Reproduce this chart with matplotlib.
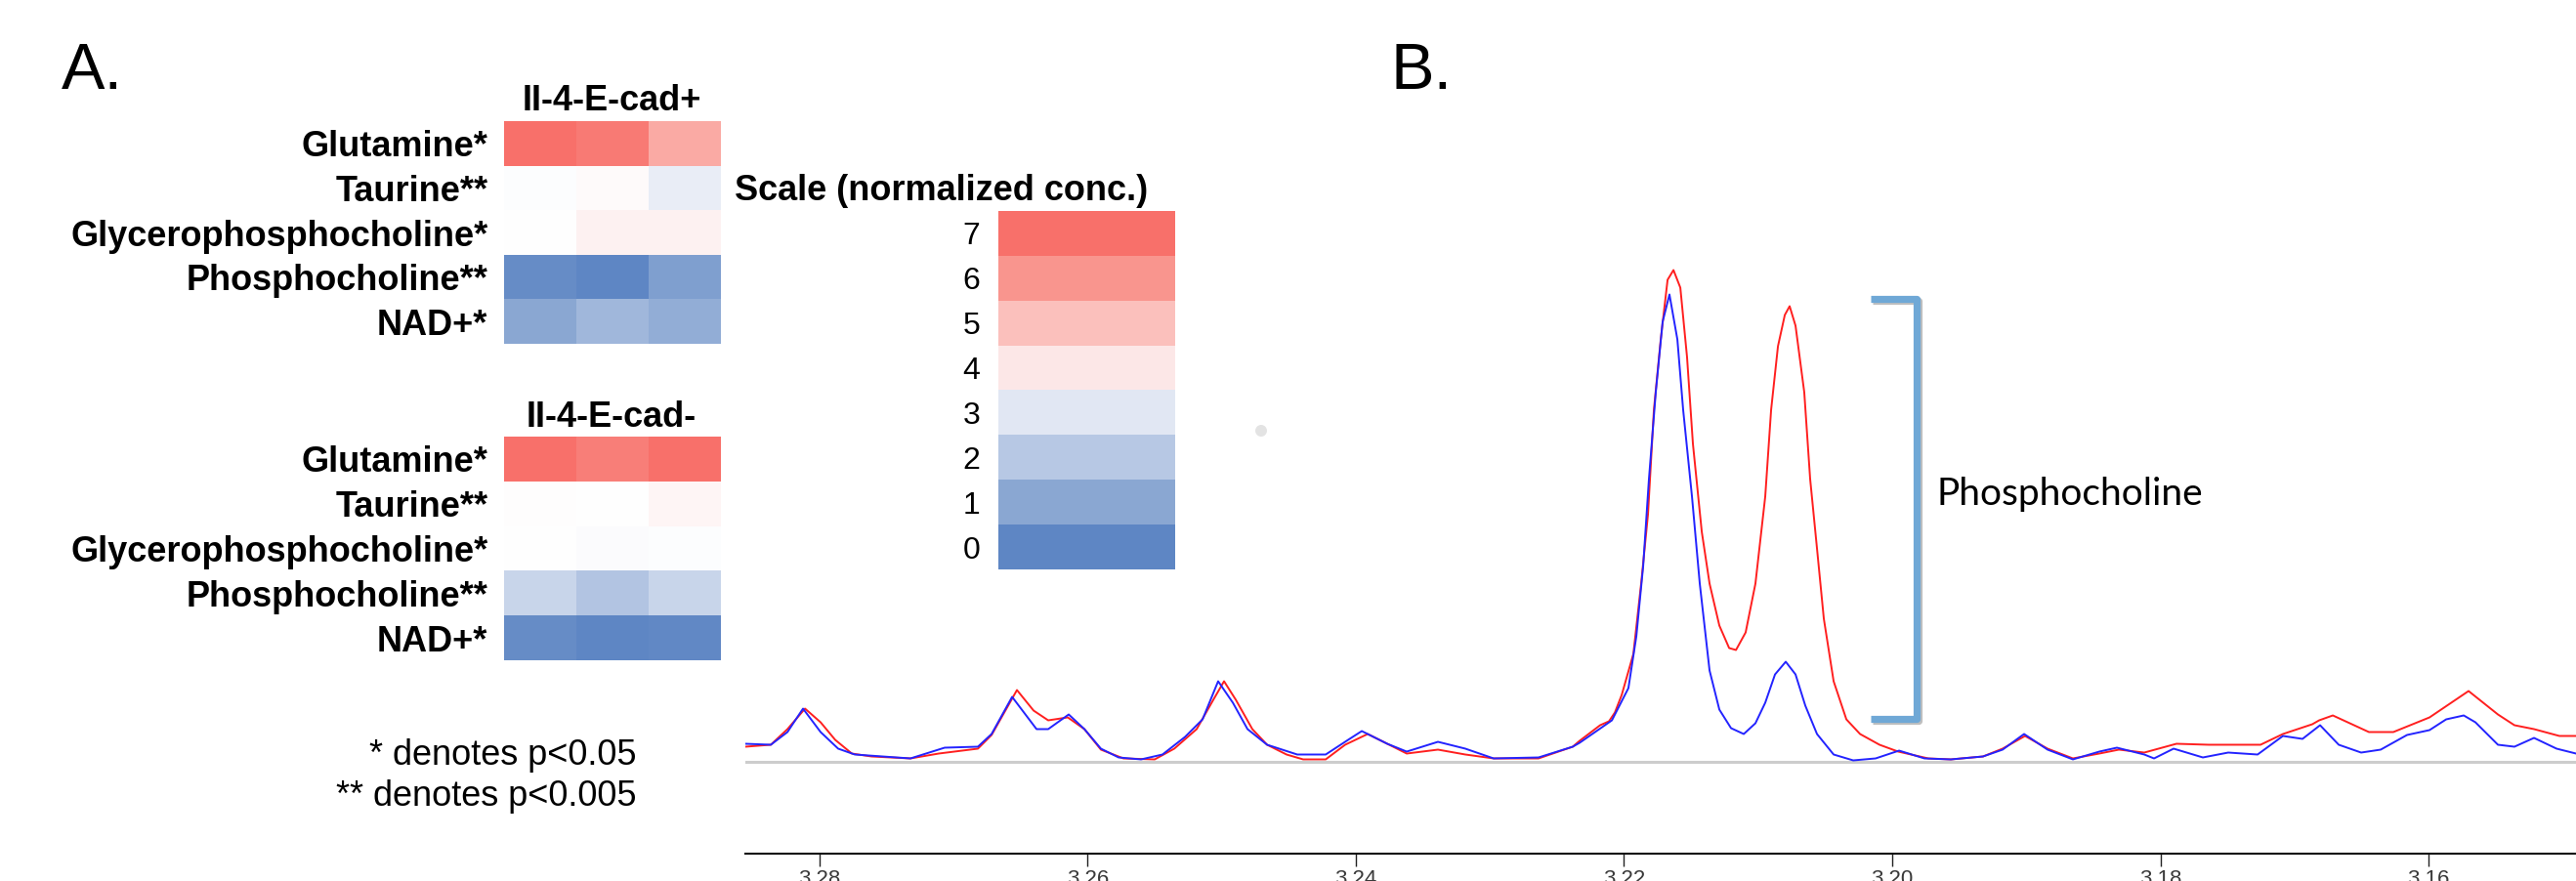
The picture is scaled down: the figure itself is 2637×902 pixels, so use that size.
import matplotlib
matplotlib.use("Agg")
import matplotlib.pyplot as plt
from matplotlib.colors import LinearSegmentedColormap
from matplotlib import patheffects as pe
from matplotlib.lines import Line2D
from matplotlib.patches import Ellipse
import numpy as np

# ---------------- data ----------------
metabolites = ["Glutamine*", "Taurine**", "Glycerophosphocholine*",
               "Phosphocholine**", "NAD+*"]
group_pos_title = "II-4-E-cad+"
group_neg_title = "II-4-E-cad-"

# normalized concentration (0..7), 3 replicates per metabolite
ecad_pos = [[7.0, 6.7, 5.5],
            [3.45, 3.6, 3.14],
            [3.5, 3.8, 3.8],
            [0.2, 0.0, 0.76],
            [1.0, 1.48, 1.2]]
ecad_neg = [[7.0, 6.6, 7.0],
            [3.55, 3.5, 3.7],
            [3.5, 3.42, 3.47],
            [2.42, 1.89, 2.42],
            [0.2, 0.0, 0.1]]

scale_levels = [7, 6, 5, 4, 3, 2, 1, 0]
scale_colors = ["#5e86c4", "#8ba8d3", "#b7c8e4", "#e2e8f4",
                "#fde8e8", "#fbc0bc", "#fa968f", "#f8706a"]  # for 0..7

footnotes = ["* denotes p<0.05", "** denotes p<0.005"]

# NMR spectrum (ppm, intensity a.u.) - red and blue traces
ppm_red = [3.28551, 3.28361, 3.28237, 3.28106, 3.27990, 3.27881, 3.27757, 3.27611, 3.27320, 3.27109,
           3.26817, 3.26715, 3.26526, 3.26402, 3.26293, 3.26147, 3.26023, 3.25900, 3.25732, 3.25499,
           3.25353, 3.25186, 3.25062, 3.24982, 3.24894, 3.24771, 3.24661, 3.24516, 3.24392, 3.24224,
           3.24079, 3.23911, 3.23765, 3.23620, 3.23387, 3.23183, 3.22972, 3.22637, 3.22382, 3.22331,
           3.22178, 3.22112, 3.22068, 3.22017, 3.21930, 3.21872, 3.21821, 3.21777, 3.21726, 3.21675,
           3.21631, 3.21580, 3.21530, 3.21486, 3.21420, 3.21362, 3.21289, 3.21216, 3.21165, 3.21093,
           3.21020, 3.20947, 3.20903, 3.20852, 3.20801, 3.20765, 3.20721, 3.20656, 3.20612, 3.20561,
           3.20510, 3.20437, 3.20342, 3.20240, 3.20095, 3.19956, 3.19731, 3.19563, 3.19323, 3.19177,
           3.19010, 3.18842, 3.18653, 3.18456, 3.18310, 3.18121, 3.17881, 3.17640, 3.17254, 3.17087,
           3.16868, 3.16817, 3.16715, 3.16446, 3.16264, 3.15994, 3.15703, 3.15484, 3.15361, 3.15215,
           3.15026, 3.14902]
int_red = [15, 17, 33, 54, 40, 22, 8, 5, 3, 8,
           13, 27, 73, 52, 42, 45, 33, 12, 3, 2,
           13, 33, 63, 82, 63, 33, 17, 7, 2, 2,
           17, 28, 18, 8, 12, 7, 3, 3, 15, 21,
           37, 41, 50, 68, 110, 182, 253, 360, 432, 493,
           503, 485, 414, 325, 235, 182, 139, 116, 114, 132,
           182, 271, 360, 425, 457, 466, 446, 378, 289, 218,
           146, 82, 43, 28, 17, 10, 3, 2, 5, 13,
           26, 13, 3, 8, 12, 9, 18, 17, 17, 28,
           38, 42, 47, 30, 30, 45, 72, 48, 37, 33,
           26, 26]

ppm_blue = [3.28551, 3.28361, 3.28237, 3.28121, 3.27990, 3.27859, 3.27735, 3.27320, 3.27065, 3.26817,
            3.26715, 3.26562, 3.26380, 3.26293, 3.26140, 3.26023, 3.25900, 3.25768, 3.25601, 3.25441,
            3.25273, 3.25142, 3.25026, 3.24916, 3.24807, 3.24661, 3.24436, 3.24224, 3.24057, 3.23955,
            3.23765, 3.23620, 3.23387, 3.23183, 3.22972, 3.22637, 3.22382, 3.22331, 3.22163, 3.22090,
            3.21967, 3.21908, 3.21857, 3.21814, 3.21763, 3.21712, 3.21661, 3.21602, 3.21559, 3.21493,
            3.21435, 3.21362, 3.21289, 3.21202, 3.21107, 3.21020, 3.20947, 3.20874, 3.20794, 3.20721,
            3.20648, 3.20561, 3.20437, 3.20291, 3.20124, 3.19949, 3.19760, 3.19563, 3.19323, 3.19177,
            3.19017, 3.18842, 3.18653, 3.18456, 3.18325, 3.18121, 3.18048, 3.17902, 3.17684, 3.17495,
            3.17276, 3.17087, 3.16941, 3.16810, 3.16671, 3.16504, 3.16358, 3.16162, 3.15994, 3.15870,
            3.15739, 3.15652, 3.15484, 3.15361, 3.15215, 3.15047, 3.14902]
int_blue = [18, 17, 30, 54, 30, 13, 7, 3, 14, 15,
            28, 66, 33, 33, 48, 33, 13, 4, 2, 7,
            25, 43, 82, 60, 33, 17, 7, 7, 22, 31,
            18, 10, 20, 13, 3, 4, 15, 19, 35, 42,
            75, 128, 200, 289, 378, 450, 478, 432, 360, 271,
            182, 93, 53, 34, 28, 39, 60, 89, 102, 89,
            57, 28, 7, 1, 3, 11, 3, 2, 5, 12,
            28, 12, 2, 10, 14, 7, 3, 13, 4, 9,
            7, 26, 23, 37, 17, 9, 12, 27, 32, 43,
            47, 40, 17, 15, 24, 13, 8]

ppm_ticks = [3.28, 3.26, 3.24, 3.22, 3.20, 3.18, 3.16]
ppm_range = (3.28551, 3.14902)
bracket_ppm = (3.20160, 3.19818)
bracket_int = (474, 44)
bracket_label = "Phosphocholine"

# ---------------- layout helpers ----------------
W, H, DPI = 2637, 902, 100


def fx(px):
    return px / W


def fy(py):
    return 1 - py / H


def box(l, t, r, b):
    return [fx(l), fy(b), (r - l) / W, (b - t) / H]


SANS = "Liberation Sans"
plt.rcParams["font.family"] = [SANS, "DejaVu Sans"]

fig = plt.figure(figsize=(W / DPI, H / DPI), dpi=DPI)
fig.patch.set_facecolor("white")

pos = np.linspace(0, 1, 8)
cols = list(zip(pos, scale_colors))
cols.insert(4, (3.5 / 7, "#ffffff"))
cmap = LinearSegmentedColormap.from_list("conc", cols)

# ---------------- panel labels ----------------
fig.text(fx(63), fy(91), "A.", fontsize=48, va="baseline", ha="left")
fig.text(fx(1424), fy(91), "B.", fontsize=48, va="baseline", ha="left")


def heat(ax_box, values, title, title_base):
    ax = fig.add_axes(ax_box)
    ax.imshow(np.array(values), cmap=cmap, vmin=0, vmax=7, aspect="auto",
              interpolation="nearest")
    ax.set_xticks([])
    ax.set_yticks(range(len(metabolites)))
    ax.set_yticklabels(metabolites, fontsize=26, fontweight="bold")
    ax.tick_params(axis="y", length=0, pad=12)
    for s in ax.spines.values():
        s.set_visible(False)
    fig.text(fx(626), fy(title_base), title, fontsize=26, fontweight="bold",
             ha="center", va="baseline")
    return ax


heat(box(516, 124, 737, 352), ecad_pos, group_pos_title, 113)
heat(box(516, 447, 737, 676), ecad_neg, group_neg_title, 437)

fig.text(fx(652), fy(783), footnotes[0], fontsize=26, ha="right", va="baseline")
fig.text(fx(652), fy(825), footnotes[1], fontsize=26, ha="right", va="baseline")

# ---------------- scale ----------------
cax = fig.add_axes(box(1022, 216, 1203, 583))
cax.imshow(np.array(scale_levels)[:, None], cmap=cmap, vmin=0, vmax=7,
           aspect="auto", interpolation="nearest")
cax.set_xticks([])
cax.set_yticks(range(len(scale_levels)))
cax.set_yticklabels([str(v) for v in scale_levels], fontsize=23)
cax.tick_params(axis="y", length=0, pad=13.5)
for s in cax.spines.values():
    s.set_visible(False)
fig.text(fx(752), fy(205), "Scale (normalized conc.)", fontsize=26,
         fontweight="bold", ha="left", va="baseline")

# small grey smudge present in the original figure
fig.patches.append(Ellipse((fx(1291), fy(441)), 12 / W, 12 / H,
                           transform=fig.transFigure, facecolor="#dddddd",
                           edgecolor="none", alpha=0.8))

# ---------------- spectrum ----------------
ax = fig.add_axes(box(763, 250, 2637, 874))
ax.patch.set_visible(False)
ax.axhline(0, color="#cdcdcd", lw=2.2, zorder=1)
ax.plot(ppm_red, int_red, color="#ff1f1f", lw=1.4, zorder=3)
ax.plot(ppm_blue, int_blue, color="#2323ff", lw=1.4, zorder=4)
ax.set_xlim(*ppm_range)
ax.set_ylim(-94.5, 529.5)
ax.set_yticks([])
ax.set_xticks(ppm_ticks)
ax.set_xticklabels([f"{v:.2f}" for v in ppm_ticks], fontsize=16, color="#3a3a3a")
ax.tick_params(axis="x", direction="out", length=9, width=1.0, pad=2.5,
               color="#222222")
for k in ("left", "right", "top"):
    ax.spines[k].set_visible(False)
ax.spines["bottom"].set_linewidth(1.5)
ax.spines["bottom"].set_color("#111111")

# bracket annotation
x0, x1 = bracket_ppm
ytop, ybot = bracket_int
br = Line2D([x0, x1, x1, x0], [ytop, ytop, ybot, ybot], color="#6fa8d6",
            lw=5.2, solid_joinstyle="round", solid_capstyle="butt", zorder=5,
            path_effects=[pe.SimpleLineShadow(offset=(1.5, -1.5), alpha=0.25),
                          pe.Normal()])
ax.add_line(br)
fig.text(fx(1983), fy(517), bracket_label, fontsize=28, ha="left", va="baseline",
         family=["Lato", "DejaVu Sans"])

fig.savefig("out.png", dpi=DPI, facecolor="white")
